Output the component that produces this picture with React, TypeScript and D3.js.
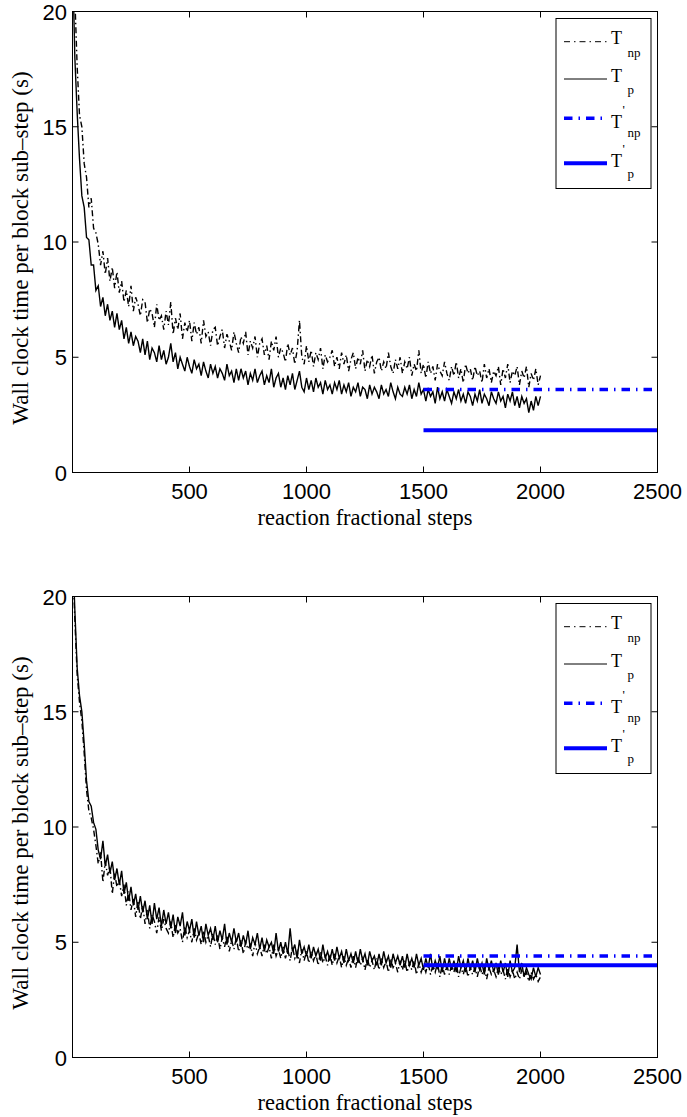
import React from 'react';
import * as d3 from 'd3';

// step index of each sample (1, 10, 20, ..., 2000)
const STEPS: number[] = [1, ...d3.range(10, 2001, 10)];

// ---- upper panel ----
const TOP_NP: number[] = [
  24.0, 20.6, 17.6, 15.5, 15.0, 13.4, 12.8, 11.5, 11.9, 10.6, 10.4,
  9.9, 9.0, 9.6, 8.6, 9.3, 8.3, 8.9, 8.0, 8.7, 7.8,
  8.3, 7.4, 7.9, 7.2, 8.1, 7.0, 7.6, 7.3, 6.8, 7.5,
  7.4, 6.5, 7.1, 6.9, 6.3, 7.3, 6.6, 6.8, 6.2, 7.0,
  6.4, 7.4, 6.0, 6.7, 6.2, 6.9, 5.8, 6.5, 6.1, 6.6,
  5.7, 6.5, 6.0, 6.3, 5.6, 6.6, 5.9, 6.1, 5.5, 6.2,
  6.3, 5.5, 5.9, 6.2, 5.4, 6.0, 5.7, 5.3, 6.1, 5.6,
  5.2, 5.9, 5.6, 6.1, 5.1, 5.7, 5.4, 5.9, 5.0, 5.6,
  5.8, 5.1, 5.5, 4.9, 5.7, 5.3, 5.9, 5.0, 5.4, 5.2,
  4.8, 5.6, 5.1, 5.4, 4.7, 5.3, 6.6, 5.0, 4.7, 5.5,
  4.8, 5.3, 4.6, 5.2, 4.9, 5.4, 4.5, 5.1, 4.8, 5.0,
  5.3, 4.6, 5.0, 4.5, 5.2, 4.7, 5.1, 4.4, 4.9, 5.2,
  4.5, 5.0, 4.7, 5.3, 4.4, 4.9, 4.6, 5.1, 4.3, 4.8,
  5.0, 4.4, 4.8, 4.5, 5.2, 4.6, 4.3, 4.9, 4.5, 5.0,
  4.3, 4.8, 4.5, 5.0, 4.2, 4.7, 4.4, 5.3, 4.3, 4.7,
  4.1, 4.8, 4.3, 4.6, 4.0, 4.7, 4.4, 4.2, 4.8, 4.3,
  4.0, 4.6, 4.2, 4.8, 4.1, 4.5, 3.9, 4.7, 4.3, 4.5,
  4.0, 4.6, 4.2, 4.4, 3.9, 4.7, 4.1, 4.5, 3.9, 4.4,
  4.2, 4.6, 3.8, 4.5, 4.1, 4.7, 3.9, 4.4, 4.2, 4.6,
  3.8, 4.4, 4.1, 4.6, 3.7, 4.3, 4.0, 4.5, 3.8, 4.2,
];
const TOP_P: number[] = [
  22.0, 18.0, 15.6, 13.6, 12.0, 11.5, 10.2, 10.1, 9.0, 9.0, 7.9,
  8.1, 7.2, 7.6, 6.8, 7.3, 6.6, 7.0, 6.3, 6.9, 6.2,
  6.6, 5.8, 6.3, 5.6, 6.1, 5.5, 5.9, 5.7, 5.2, 5.8,
  5.1, 5.7, 4.9, 5.4, 5.2, 4.8, 5.5, 4.9, 5.3, 4.7,
  5.0, 5.6, 4.8, 5.2, 4.5, 5.0, 4.7, 4.4, 5.0, 4.6,
  4.3, 4.9, 4.5, 4.7, 4.2, 4.8, 4.4, 4.1, 4.7, 4.3,
  4.6, 4.1, 4.5, 4.3, 4.0, 4.7, 4.2, 4.4, 3.9, 4.5,
  4.0, 4.5, 4.1, 4.4, 3.8, 4.3, 4.0, 4.5, 3.9, 4.2,
  4.4, 3.8, 4.2, 3.9, 4.5, 3.7, 4.1, 4.3, 3.7, 4.1,
  3.6, 4.2, 3.8, 4.3, 3.6, 4.0, 4.4, 3.7, 3.5, 4.1,
  3.6, 4.0, 3.5, 4.1, 3.7, 3.9, 3.4, 4.0, 3.6, 3.8,
  3.4, 3.9, 3.6, 4.0, 3.4, 3.8, 3.5, 3.9, 3.3, 3.7,
  3.5, 3.9, 3.3, 3.7, 3.6, 3.2, 3.8, 3.4, 3.7, 3.5,
  3.2, 3.8, 3.4, 3.6, 3.3, 3.9, 3.5, 3.2, 3.7, 3.4,
  3.3, 3.7, 3.4, 3.8, 3.2, 3.6, 3.3, 3.9, 3.4, 3.6,
  3.1, 3.6, 3.3, 3.5, 3.0, 3.7, 3.2, 3.5, 3.1, 3.6,
  3.3, 3.0, 3.5, 3.2, 3.6, 3.1, 3.4, 3.0, 3.5, 3.3,
  2.9, 3.4, 3.1, 3.6, 3.0, 3.4, 3.2, 2.9, 3.5, 3.2,
  3.0, 3.5, 3.1, 3.3, 2.8, 3.4, 3.1, 3.5, 2.9, 3.3,
  2.8, 3.3, 3.0, 3.2, 2.6, 3.1, 2.7, 3.3, 2.9, 3.3,
];
const TOP_NP_PRIME = 3.6;
const TOP_P_PRIME = 1.83;

// ---- lower panel ----
const BOT_NP: number[] = [
  21.5, 19.0, 16.6, 15.4, 14.6, 13.2, 11.6, 10.7, 10.4, 9.9, 9.2,
  8.4, 8.9, 7.6, 8.5, 7.9, 8.3, 7.1, 8.0, 7.4, 7.7,
  7.0, 7.5, 6.6, 7.2, 6.4, 6.9, 6.1, 6.8, 6.0, 6.6,
  5.8, 6.4, 5.6, 6.2, 5.9, 5.4, 6.1, 5.5, 6.0, 5.6,
  5.4, 5.9, 5.2, 5.8, 5.4, 5.6, 5.0, 5.7, 5.2, 5.5,
  5.0, 5.6, 5.1, 5.4, 4.9, 5.5, 5.0, 5.3, 4.8, 5.4,
  4.9, 5.3, 4.7, 5.2, 4.8, 5.3, 4.6, 5.1, 4.7, 5.2,
  4.6, 5.1, 4.5, 5.0, 4.7, 4.9, 4.4, 5.0, 4.5, 4.8,
  4.4, 4.9, 4.5, 4.8, 4.3, 4.9, 4.4, 4.7, 4.3, 4.8,
  4.3, 4.7, 4.2, 4.8, 4.3, 4.6, 4.1, 4.7, 4.2, 4.6,
  4.1, 4.6, 4.2, 4.5, 4.0, 4.6, 4.1, 4.4, 4.0, 4.5,
  4.0, 4.5, 4.1, 4.4, 3.9, 4.4, 4.0, 4.3, 3.9, 4.4,
  3.9, 4.4, 4.0, 4.3, 3.8, 4.3, 3.9, 4.2, 3.8, 4.3,
  3.8, 4.3, 3.9, 4.2, 3.7, 4.3, 3.9, 4.1, 3.7, 4.2,
  3.8, 4.2, 3.7, 4.1, 3.8, 4.2, 3.6, 4.1, 3.7, 4.0,
  3.7, 4.1, 3.6, 4.0, 3.7, 4.1, 3.5, 4.0, 3.6, 4.0,
  3.6, 4.0, 3.7, 4.1, 3.5, 3.9, 3.6, 4.0, 3.5, 3.9,
  3.6, 3.9, 3.5, 4.0, 3.6, 3.9, 3.4, 3.9, 3.6, 3.8,
  3.5, 3.9, 3.6, 3.8, 3.4, 3.9, 3.5, 3.8, 3.4, 3.7,
  3.4, 3.8, 3.5, 3.7, 3.3, 3.7, 3.4, 3.6, 3.3, 3.5,
];
const BOT_P: number[] = [
  22.0, 19.4, 16.9, 15.7, 15.0, 13.6, 12.0, 11.1, 10.9, 10.2, 9.9,
  9.0, 8.6, 9.4, 8.3, 8.8, 8.0, 8.5, 7.7, 8.2, 7.5,
  8.1, 7.1, 7.6, 6.8, 7.4, 6.6, 7.1, 6.4, 7.0, 6.3,
  6.8, 6.0, 6.6, 5.8, 6.7, 6.0, 6.5, 5.7, 6.4, 5.8,
  6.3, 5.6, 6.2, 5.4, 6.1, 5.7, 6.3, 5.3, 5.9, 5.5,
  6.0, 5.2, 5.9, 5.3, 5.7, 5.0, 5.8, 5.3, 5.6, 5.1,
  5.7, 5.0, 5.5, 5.1, 5.8, 4.9, 5.4, 5.0, 5.6, 5.0,
  5.4, 4.8, 5.3, 4.9, 5.5, 4.7, 5.2, 4.9, 5.4, 4.7,
  5.2, 4.6, 5.1, 4.8, 5.0, 4.5, 5.4, 4.6, 5.0, 4.5,
  5.0, 4.5, 5.6, 4.6, 4.9, 4.3, 5.1, 4.5, 4.8, 4.4,
  4.9, 4.3, 4.8, 4.4, 4.7, 4.2, 4.9, 4.3, 4.6, 4.2,
  4.7, 4.2, 4.8, 4.3, 4.6, 4.1, 4.7, 4.2, 4.5, 4.1,
  4.6, 4.1, 4.7, 4.2, 4.5, 4.0, 4.6, 4.2, 4.4, 4.0,
  4.5, 4.0, 4.6, 4.1, 4.4, 3.9, 4.5, 4.1, 4.4, 4.0,
  4.4, 3.9, 4.5, 4.0, 4.3, 3.9, 4.5, 4.0, 4.3, 3.8,
  4.3, 3.9, 4.5, 3.8, 4.2, 3.9, 4.4, 3.7, 4.3, 3.8,
  4.3, 3.8, 4.2, 3.7, 4.4, 3.9, 4.2, 3.7, 4.3, 3.8,
  4.2, 3.7, 4.3, 3.8, 4.1, 3.6, 4.3, 3.8, 4.2, 3.7,
  4.1, 3.6, 4.2, 3.7, 4.1, 3.5, 4.2, 3.7, 3.9, 4.9,
  3.7, 4.1, 3.5, 3.9, 3.6, 3.4, 3.9, 3.5, 3.9, 3.6,
];
const BOT_NP_PRIME = 4.4;
const BOT_P_PRIME = 4.0;

const PRIME_RANGE: number[] = [1500, 2500];
const X_TICKS: number[] = [500, 1000, 1500, 2000, 2500];
const Y_TICKS: number[] = [0, 5, 10, 15, 20];
const X_LABEL = 'reaction fractional steps';
const Y_LABEL = 'Wall clock time per block sub\u2013step (s)';

const BLUE = '#0000ff';
const SANS = '"Liberation Sans", Arial, Helvetica, sans-serif';
const SERIF = '"Liberation Serif", "Times New Roman", Times, serif';

type PanelProps = {
  id: string;
  top: number;
  np: number[];
  p: number[];
  npPrime: number;
  pPrime: number;
};

type Entry = {
  ly: number;
  tb: number;
  sb: number;
  sub: string;
  prime: number | null;
  stroke: string;
  w: number;
  dash?: string;
};

function Panel({ id, top, np, p, npPrime, pPrime }: PanelProps) {
  const left = 72.5;
  const right = 657.5;
  const height = 461;
  const bottom = top + height;
  const x = d3.scaleLinear().domain([0, 2500]).range([left, right]);
  const y = d3.scaleLinear().domain([0, 20]).range([bottom, top]);
  const line = d3
    .line<number>()
    .x((_, i) => x(STEPS[i]))
    .y((d) => y(d));
  const hline = (v: number) =>
    d3.line<number>().x((d) => x(d)).y(() => y(v))(PRIME_RANGE) || '';
  const tick = 6;
  const clipId = `clip-${id}`;

  // legend (positions relative to the panel's top)
  const lg = top - 11.5;
  const sx0 = 564;
  const sx1 = 607;
  const tx = 611;
  const entries: Entry[] = [
    { ly: 41.7, tb: 43.5, sb: 57, sub: 'np', prime: null, stroke: '#000', w: 1, dash: '6,4,1.5,4' },
    { ly: 79, tb: 82, sb: 93.5, sub: 'p', prime: null, stroke: '#000', w: 1 },
    { ly: 118.3, tb: 127.5, sb: 137, sub: 'np', prime: 114, stroke: BLUE, w: 3.5, dash: '8.5,6,1.5,6' },
    { ly: 163.3, tb: 166.5, sb: 177.5, sub: 'p', prime: 153, stroke: BLUE, w: 4 },
  ];

  return (
    <g>
      <defs>
        <clipPath id={clipId}>
          <rect x={left} y={top} width={right - left} height={height} />
        </clipPath>
      </defs>
      <g clipPath={`url(#${clipId})`}>
        <path d={line(np) || ''} fill="none" stroke="#000" strokeWidth={1.4} strokeDasharray="6,3,1.5,3" />
        <path d={line(p) || ''} fill="none" stroke="#000" strokeWidth={1.4} />
        <path d={hline(npPrime)} fill="none" stroke={BLUE} strokeWidth={3.5} strokeDasharray="8.5,6,1.5,6" />
        <path d={hline(pPrime)} fill="none" stroke={BLUE} strokeWidth={4} />
      </g>
      {/* axes box */}
      <rect x={left} y={top} width={right - left} height={height} fill="none" stroke="#000" strokeWidth={1} />
      {X_TICKS.map((t) => (
        <g key={`x${t}`}>
          <line x1={x(t)} x2={x(t)} y1={bottom} y2={bottom - tick} stroke="#000" />
          <line x1={x(t)} x2={x(t)} y1={top} y2={top + tick} stroke="#000" />
          <text x={x(t)} y={bottom + 26.5} textAnchor="middle" fontFamily={SANS} fontSize={22}>
            {t}
          </text>
        </g>
      ))}
      {Y_TICKS.map((t) => (
        <g key={`y${t}`}>
          <line x1={left} x2={left + tick} y1={y(t)} y2={y(t)} stroke="#000" />
          <line x1={right} x2={right - tick} y1={y(t)} y2={y(t)} stroke="#000" />
          <text x={67} y={y(t) + 8} textAnchor="end" fontFamily={SANS} fontSize={22}>
            {t}
          </text>
        </g>
      ))}
      <text x={(left + right) / 2} y={bottom + 52} textAnchor="middle" fontFamily={SERIF} fontSize={22.5}>
        {X_LABEL}
      </text>
      <text
        transform={`translate(28,${(top + bottom) / 2 + 6}) rotate(-90)`}
        textAnchor="middle"
        fontFamily={SERIF}
        fontSize={23}
      >
        {Y_LABEL}
      </text>
      {/* legend */}
      <g transform={`translate(0,${lg})`}>
        <rect x={556} y={18.5} width={95} height={170} fill="#fff" stroke="#000" strokeWidth={1} />
        {entries.map((e, i) => (
          <g key={i}>
            <line x1={sx0} x2={sx1} y1={e.ly} y2={e.ly} stroke={e.stroke} strokeWidth={e.w} strokeDasharray={e.dash} />
            <text x={tx} y={e.tb} fontFamily={SERIF}>
              <tspan fontSize={18}>T</tspan>
              {e.prime !== null ? (
                <>
                  <tspan fontSize={13} x={622.5} dy={e.prime - e.tb}>'</tspan>
                  <tspan fontSize={13} x={627.5} dy={e.sb - e.prime}>{e.sub}</tspan>
                </>
              ) : (
                <tspan fontSize={13} x={627.5} dy={e.sb - e.tb}>{e.sub}</tspan>
              )}
            </text>
          </g>
        ))}
      </g>
    </g>
  );
}

export default function App() {
  return (
    <svg
      width={687}
      height={1117}
      style={{ position: 'absolute', left: 0, top: 0, background: '#fff' }}
    >
      <Panel id="top" top={11.5} np={TOP_NP} p={TOP_P} npPrime={TOP_NP_PRIME} pPrime={TOP_P_PRIME} />
      <Panel id="bot" top={596.5} np={BOT_NP} p={BOT_P} npPrime={BOT_NP_PRIME} pPrime={BOT_P_PRIME} />
    </svg>
  );
}
